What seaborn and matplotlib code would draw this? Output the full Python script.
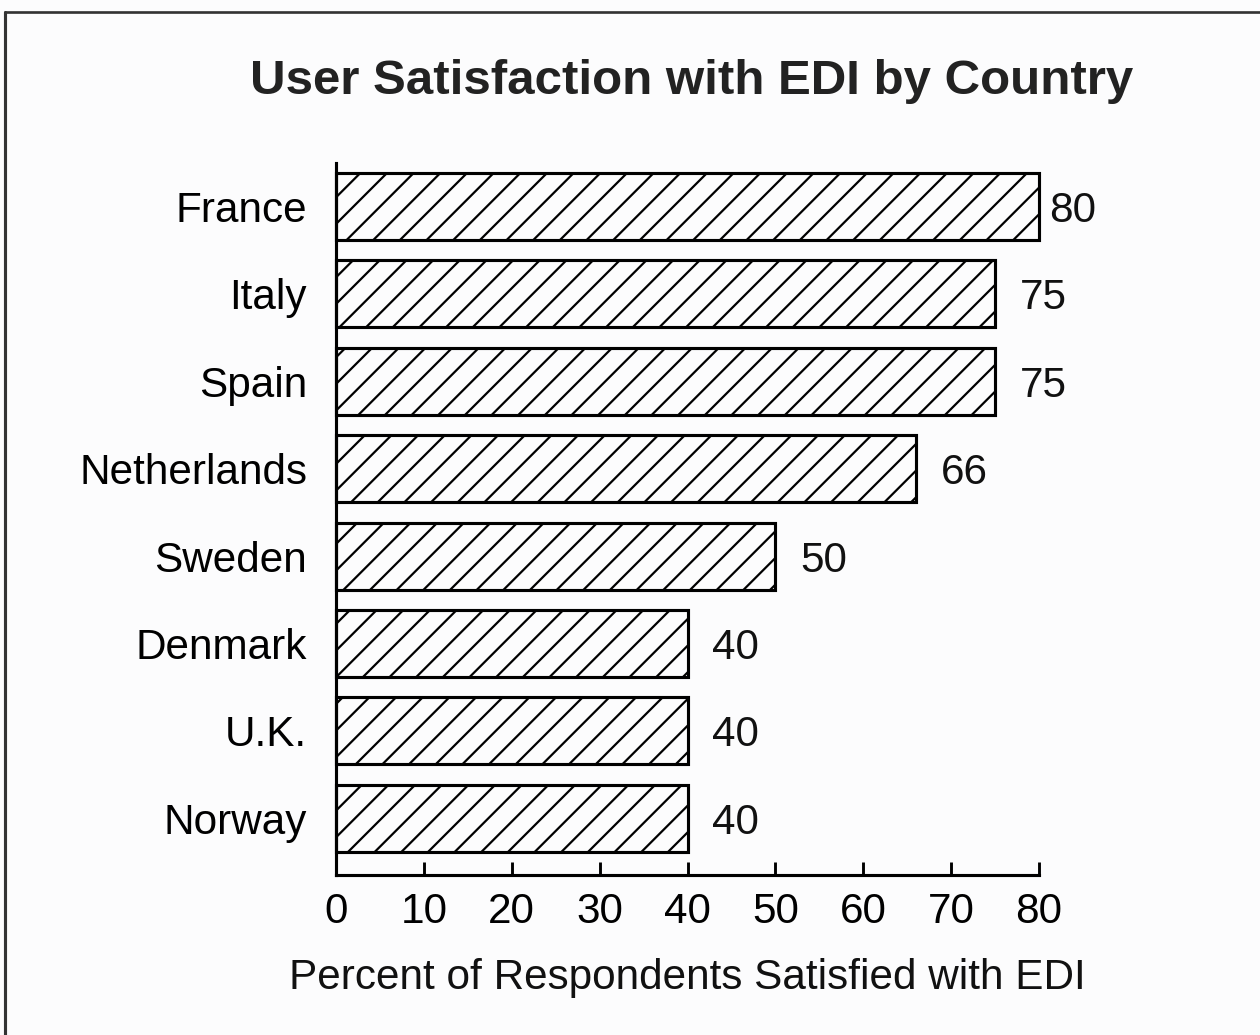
import matplotlib
matplotlib.use("Agg")
import matplotlib.pyplot as plt
import seaborn as sns
import pandas as pd
from matplotlib.lines import Line2D

countries = ["France", "Italy", "Spain", "Netherlands", "Sweden", "Denmark", "U.K.", "Norway"]
satisfied = [80, 75, 75, 66, 50, 40, 40, 40]
x_ticks = [0, 10, 20, 30, 40, 50, 60, 70, 80]
title = "User Satisfaction with EDI by Country"
x_label = "Percent of Respondents Satisfied with EDI"

sns.set_style("white")
plt.rcParams["font.family"] = ["Liberation Sans", "DejaVu Sans"]
plt.rcParams["hatch.linewidth"] = 1.0
plt.rcParams["hatch.color"] = "black"

DPI = 160
fig = plt.figure(figsize=(1260 / DPI, 1035 / DPI), dpi=DPI)
bg = "#fcfcfd"
fig.patch.set_facecolor(bg)

ax = fig.add_axes([336 / 1260, (1035 - 875) / 1035, 703 / 1260, 712 / 1035])
ax.set_facecolor(bg)

df = pd.DataFrame({"country": countries, "value": satisfied})
sns.barplot(data=df, x="value", y="country", orient="h", color="white",
            edgecolor="black", linewidth=1.4, width=0.767, saturation=1, ax=ax)
for p in ax.patches:
    p.set_hatch("//")
    p.set_facecolor(bg)
    p.set_clip_on(False)

ax.set_xlim(0, 80)
ax.set_ylim(7.65, -0.498)
ax.set_xticks(x_ticks)
ax.set_xticklabels([str(t) for t in x_ticks], fontsize=19)
ax.tick_params(axis="x", bottom=True, direction="in", length=5.8, width=1.3, pad=7.5, colors="black")
ax.tick_params(axis="y", left=False, length=0, pad=13, labelsize=19, colors="black")
ax.set_ylabel("")
ax.set_xlabel(x_label, fontsize=19, labelpad=12, color="#111111")

for s in ["top", "right"]:
    ax.spines[s].set_visible(False)
for s in ["left", "bottom"]:
    ax.spines[s].set_linewidth(1.4)
    ax.spines[s].set_color("black")

vmax = max(satisfied)
for i, v in enumerate(satisfied):
    off = 4.5 if v == vmax else 11
    ax.annotate(str(v), xy=(v, i), xytext=(off, 0), textcoords="offset points",
                ha="left", va="center_baseline", fontsize=19, color="#111111")

fig.text(692 / 1260, (1035 - 94) / 1035, title, ha="center", va="baseline",
         fontsize=22.2, fontweight="bold", color="#222222")

# scanned-page frame (left and top edges)
fig.add_artist(Line2D([5 / 1260, 5 / 1260], [0, (1035 - 12) / 1035], transform=fig.transFigure,
                      color="#333333", linewidth=1.4))
fig.add_artist(Line2D([5 / 1260, 1], [(1035 - 12) / 1035, (1035 - 12) / 1035], transform=fig.transFigure,
                      color="#333333", linewidth=1.2))

fig.savefig("out.png", dpi=DPI, facecolor=bg)
